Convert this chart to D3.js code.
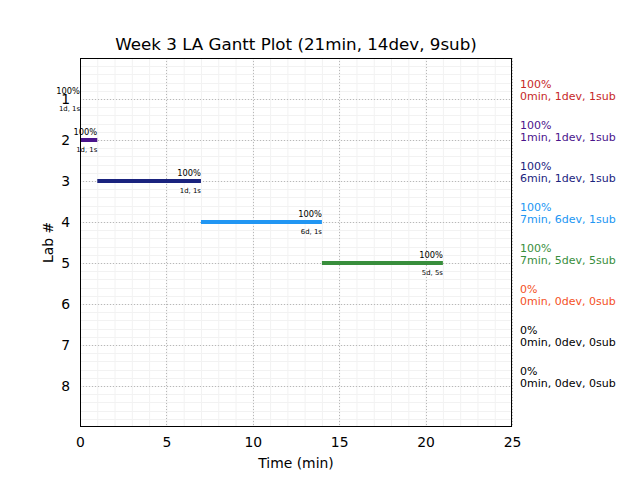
<!DOCTYPE html>
<html><head><meta charset="utf-8">
<script src="https://cdn.jsdelivr.net/npm/d3@7"></script>
<style>body{margin:0;background:#fff}svg{display:block;font-family:"DejaVu Sans",sans-serif}</style>
</head><body><div id="chart"></div>
<script>
const labs = [1,2,3,4,5,6,7,8];
const starts = [0,0,1,7,14,0,0,0];
const minutes = [0,1,6,7,7,0,0,0];
const percents = [100,100,100,100,100,0,0,0];
const devs = [1,1,1,6,5,0,0,0];
const subs = [1,1,1,1,5,0,0,0];
const colors = ["#c62828","#4a148c","#1a237e","#2196f3","#388e3c","#f4511e","#000000","#000000"];
const xTicks = [0,5,10,15,20,25];
const title = "Week 3 LA Gantt Plot (21min, 14dev, 9sub)";

const W=640,H=480, L=80,R=512,T=58,B=427;
const svg=d3.select("#chart").append("svg").attr("width",W).attr("height",H);
const x=d3.scaleLinear().domain([0,25]).range([L,R]);
const y=d3.scaleLinear().domain([0,9]).range([T,B]);

// minor grid
const g=svg.append("g");
g.selectAll(".mx").data(d3.range(0,26,1)).enter().append("line")
 .attr("x1",d=>x(d)+0.5).attr("x2",d=>x(d)+0.5).attr("y1",T).attr("y2",B)
 .attr("stroke","#f2f2f2").attr("stroke-width",1);
g.selectAll(".my").data(d3.range(0,45).map(i=>i*0.2)).enter().append("line")
 .attr("y1",d=>Math.round(y(d))+0.5).attr("y2",d=>Math.round(y(d))+0.5).attr("x1",L).attr("x2",R)
 .attr("stroke","#f2f2f2").attr("stroke-width",1);
// major grid
g.selectAll(".Mx").data(xTicks).enter().append("line")
 .attr("x1",d=>Math.round(x(d))+0.5).attr("x2",d=>Math.round(x(d))+0.5).attr("y1",T).attr("y2",B)
 .attr("stroke","#b8b8b8").attr("stroke-dasharray","1,2");
g.selectAll(".My").data(labs).enter().append("line")
 .attr("y1",d=>Math.round(y(d))+0.5).attr("y2",d=>Math.round(y(d))+0.5).attr("x1",L).attr("x2",R)
 .attr("stroke","#b8b8b8").attr("stroke-dasharray","1,2");

// bars
labs.forEach((lab,i)=>{
  if(percents[i]===0 && minutes[i]===0 && devs[i]===0) return;
  const x0=x(starts[i]), x1=x(starts[i]+minutes[i]), yy=y(lab);
  if(minutes[i]>0){
    svg.append("rect").attr("x",x0).attr("y",yy-2).attr("width",x1-x0).attr("height",4).attr("fill",colors[i]);
  }
  svg.append("text").attr("x",x1).attr("y",yy-5).attr("text-anchor","end")
   .attr("font-size","8.3px").attr("fill","#000").text(percents[i]+"%");
  svg.append("text").attr("x",x1).attr("y",yy+12).attr("text-anchor","end")
   .attr("font-size","6.9px").attr("fill","#000").text(devs[i]+"d, "+subs[i]+"s");
});

// frame
svg.append("rect").attr("x",L+0.5).attr("y",T+0.5).attr("width",R-L-1).attr("height",B-T-1)
 .attr("fill","none").attr("stroke","#000").attr("stroke-width",1);

// axes tick labels
const xAxis=d3.axisBottom(x).tickValues(xTicks).tickSize(0).tickPadding(10);
const xa=svg.append("g").attr("transform",`translate(0,${B})`).call(xAxis);
xa.select(".domain").remove();
xa.selectAll("text").attr("font-size","13.9px").attr("font-family","DejaVu Sans").attr("fill","#000");
const yAxis=d3.axisLeft(y).tickValues(labs).tickSize(0).tickPadding(10);
const ya=svg.append("g").attr("transform",`translate(${L},0)`).call(yAxis);
ya.select(".domain").remove();
ya.selectAll("text").attr("font-size","13.9px").attr("font-family","DejaVu Sans").attr("fill","#000");

// labels
svg.append("text").attr("x",(L+R)/2).attr("y",50).attr("text-anchor","middle")
 .attr("font-size","16.7px").text(title);
svg.append("text").attr("x",(L+R)/2).attr("y",468).attr("text-anchor","middle")
 .attr("font-size","13.9px").text("Time (min)");
svg.append("text").attr("transform",`translate(53,${(T+B)/2}) rotate(-90)`).attr("text-anchor","middle")
 .attr("font-size","13.9px").text("Lab #");

// right side summaries
labs.forEach((lab,i)=>{
  const yy=y(lab);
  svg.append("text").attr("x",520).attr("y",yy-11).attr("font-size","11px").attr("fill",colors[i]).text(percents[i]+"%");
  svg.append("text").attr("x",520).attr("y",yy+1).attr("font-size","11px").attr("fill",colors[i])
   .text(minutes[i]+"min, "+devs[i]+"dev, "+subs[i]+"sub");
});
</script></body></html>
